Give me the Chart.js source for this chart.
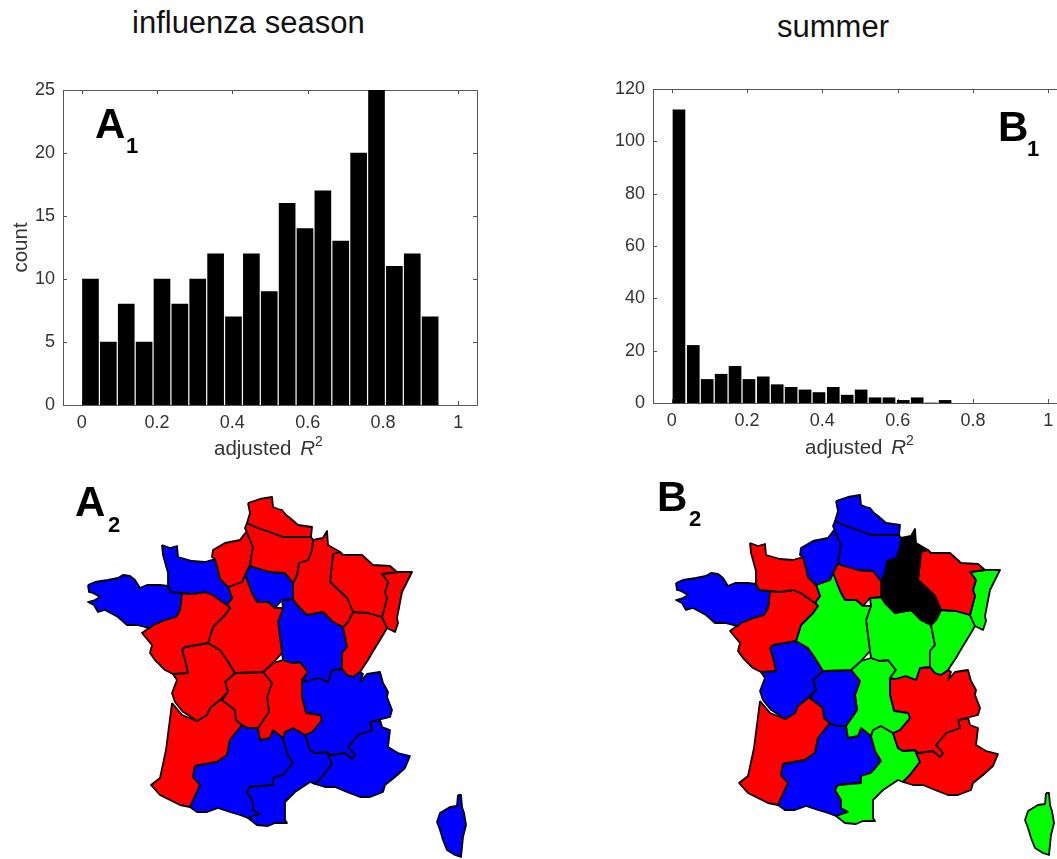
<!DOCTYPE html>
<html>
<head>
<meta charset="utf-8">
<title>adjusted R2 by season</title>
<script src="https://cdn.jsdelivr.net/npm/chart.js@4"></script>
<style>
  html, body { margin: 0; padding: 0; background: #fff; overflow: hidden; width: 1057px; height: 859px; }
  body { position: relative; font-family: "Liberation Sans", sans-serif; }
  .box { position: absolute; width: 500px; }
  .txt { position: absolute; white-space: nowrap; line-height: 1; }
  .head { font-size: 31px; color: #111; }
  .xlab { font-size: 20.5px; color: #333; }
  .xlab i { font-style: italic; margin-left: 3px; }
  .xlab sup { font-size: 14px; line-height: 0; position: relative; top: -1px; vertical-align: super; margin-left: 0; }
  .big { font-size: 42px; font-weight: bold; color: #000; }
  .sub { font-size: 22px; font-weight: bold; color: #000; }
</style>
</head>
<body>
<div class="box" style="left:0;top:70px;height:400px"><canvas id="histA" width="500" height="400"></canvas></div>
<div class="box" style="left:600px;top:70px;height:400px"><canvas id="histB" width="500" height="400"></canvas></div>
<div class="box" style="left:0;top:470px;height:389px"><canvas id="mapA" width="500" height="389"></canvas></div>
<div class="box" style="left:588px;top:468px;height:391px"><canvas id="mapB" width="500" height="391"></canvas></div>

<div class="txt head" style="left:132px;top:7px">influenza season</div>
<div class="txt head" style="left:777px;top:11px">summer</div>
<div class="txt xlab" style="left:214px;top:438px">adjusted <i>R</i><sup>2</sup></div>
<div class="txt xlab" style="left:805px;top:437px">adjusted <i>R</i><sup>2</sup></div>

<div class="txt big" style="left:95px;top:103px">A</div><div class="txt sub" style="left:126px;top:135px">1</div>
<div class="txt big" style="left:998px;top:106px">B</div><div class="txt sub" style="left:1027px;top:138px">1</div>
<div class="txt big" style="left:75px;top:481px">A</div><div class="txt sub" style="left:108px;top:514px">2</div>
<div class="txt big" style="left:657px;top:476px">B</div><div class="txt sub" style="left:689px;top:508px">2</div>

<script>
// histogram values
const binsA = [0.023, 0.0705, 0.118, 0.1655, 0.213, 0.2605, 0.308, 0.3555, 0.403, 0.4505, 0.498, 0.5455, 0.593, 0.6405, 0.688, 0.7355, 0.783, 0.8305, 0.878, 0.9255];
const countsA = [10, 5, 8, 5, 10, 8, 10, 12, 7, 12, 9, 16, 14, 17, 13, 20, 25, 11, 12, 7];
const binsB = [0.019, 0.057, 0.094, 0.131, 0.168, 0.205, 0.243, 0.280, 0.317, 0.354, 0.391, 0.429, 0.466, 0.503, 0.540, 0.577, 0.615, 0.652, 0.689, 0.726];
const countsB = [112, 22, 9, 11, 14, 9, 10, 7, 6, 5, 4, 6, 3, 5, 2, 2, 1, 2, 0, 1];
const xTicks = [0, 0.2, 0.4, 0.6, 0.8, 1];
const yTicksA = [0, 5, 10, 15, 20, 25];
const yTicksB = [0, 20, 40, 60, 80, 100, 120];

// region outlines
const nord = [[248,503],[260,499],[272,497],[273,507],[278,509],[282,510],[286,515],[290,518],[298,525],[312,527],[311,537],[297,537],[283,537],[270,532],[258,528],[247,523],[250,513]];
const picardie = [[247,523],[258,528],[270,532],[283,537],[297,537],[311,537],[313,540],[312,550],[308,560],[299,563],[297,575],[293,583],[285,573],[270,572],[253,567],[250,565],[253,547],[247,533],[245,528]];
const hauteNormandie = [[246,532],[240,540],[225,543],[213,550],[212,557],[215,559],[218,570],[220,579],[228,587],[242,582],[245,575],[250,565],[253,547],[247,533]];
const basseNormandie = [[162,545],[170,548],[177,546],[178,557],[192,561],[205,562],[215,559],[218,570],[220,579],[228,587],[232,598],[227,605],[217,598],[213,595],[205,592],[192,594],[182,593],[171,592],[168,586],[168,573],[163,555]];
const bretagne = [[88,585],[95,582],[108,580],[118,578],[123,575],[130,576],[135,580],[140,588],[147,585],[153,585],[160,585],[168,586],[171,592],[182,593],[180,610],[176,617],[165,620],[153,625],[150,628],[145,627],[137,625],[127,625],[118,617],[105,610],[98,612],[94,605],[88,602],[95,600],[100,597],[93,593],[89,592]];
const paysDeLoire = [[182,593],[192,594],[205,592],[213,595],[217,598],[227,605],[230,608],[225,615],[213,627],[208,643],[185,647],[182,650],[185,660],[188,673],[173,674],[165,670],[155,660],[150,653],[152,645],[142,633],[153,625],[165,620],[176,617],[180,610]];
const centre = [[228,587],[242,582],[245,575],[252,593],[257,602],[268,602],[275,608],[283,608],[278,622],[282,653],[273,663],[263,672],[235,673],[227,660],[220,650],[208,643],[213,627],[225,615],[230,608],[227,605],[232,598]];
const ileDeFrance = [[250,565],[253,567],[270,572],[285,573],[293,583],[293,599],[282,600],[275,608],[268,602],[257,602],[252,593],[245,575]];
const champagne = [[313,540],[323,538],[327,531],[328,545],[340,552],[333,554],[330,582],[347,598],[353,612],[348,622],[343,627],[333,622],[323,612],[307,615],[297,605],[293,599],[293,583],[297,575],[299,563],[308,560],[312,550]];
const lorraine = [[333,554],[340,552],[343,555],[362,555],[373,565],[390,566],[397,572],[382,574],[388,582],[385,592],[387,598],[382,617],[368,613],[355,612],[353,612],[347,598],[330,582]];
const alsace = [[382,574],[397,572],[412,572],[402,592],[397,618],[398,623],[395,632],[387,628],[382,617],[387,598],[385,592],[388,582]];
const franche = [[353,612],[368,613],[382,617],[387,628],[383,635],[372,653],[368,660],[360,672],[353,677],[347,675],[342,669],[342,653],[347,647],[343,627],[348,622]];
const bourgogne = [[282,600],[293,599],[297,605],[307,615],[323,612],[333,622],[343,627],[347,647],[342,653],[342,669],[332,670],[328,682],[318,678],[307,681],[302,680],[308,672],[300,662],[292,663],[283,660],[282,653],[278,622],[283,608]];
const poitou = [[182,650],[185,647],[208,643],[220,650],[227,660],[235,673],[225,682],[228,692],[220,700],[210,708],[207,715],[197,721],[185,713],[183,712],[175,702],[172,693],[177,680],[173,674],[188,673],[185,660]];
const limousin = [[235,673],[263,672],[272,683],[267,697],[269,712],[260,725],[258,728],[248,728],[242,725],[236,720],[235,710],[222,700],[228,692],[225,682]];
const auvergne = [[263,672],[273,663],[283,660],[292,663],[300,662],[308,672],[302,680],[302,697],[306,713],[320,715],[322,720],[312,732],[305,735],[293,728],[285,732],[283,738],[273,730],[270,738],[260,740],[258,728],[260,725],[269,712],[267,697],[272,683]];
const rhoneAlpes = [[302,680],[307,681],[318,678],[328,682],[332,670],[342,669],[347,675],[353,677],[360,672],[363,674],[360,682],[367,674],[380,672],[383,683],[388,692],[387,697],[392,710],[390,717],[370,722],[372,730],[358,735],[348,747],[355,755],[352,759],[345,753],[330,755],[327,752],[315,753],[310,750],[305,735],[312,732],[322,720],[320,715],[306,713],[302,697]];
const paca = [[370,722],[380,720],[382,727],[390,730],[388,747],[398,753],[410,756],[405,768],[395,777],[385,785],[383,792],[370,797],[360,797],[347,792],[335,787],[325,787],[315,784],[322,777],[332,764],[327,752],[330,755],[345,753],[352,759],[355,755],[348,747],[358,735],[372,730]];
const languedoc = [[283,738],[285,732],[293,728],[305,735],[310,750],[315,753],[327,752],[332,764],[322,777],[315,784],[310,782],[295,792],[285,802],[285,820],[287,823],[275,823],[268,826],[257,825],[248,818],[260,814],[253,810],[253,802],[247,792],[250,787],[273,785],[273,778],[283,775],[293,763],[287,753]];
const midiPyrenees = [[242,725],[248,728],[258,728],[260,740],[270,738],[273,730],[283,738],[287,753],[293,763],[283,775],[273,778],[273,785],[250,787],[247,792],[253,802],[253,810],[260,814],[248,818],[240,815],[230,812],[218,808],[207,812],[197,812],[190,807],[200,785],[193,777],[195,766],[217,762],[227,755],[230,740]];
const aquitaine = [[172,703],[182,715],[197,721],[207,715],[210,708],[220,700],[222,700],[235,710],[236,720],[242,725],[230,740],[227,755],[217,762],[195,766],[193,777],[200,785],[190,807],[180,805],[160,795],[151,785],[160,778],[166,750]];
const arcachon = [[168,736],[171,733],[175,737],[169,738]];
const corse = [[458,795],[461,795],[462,807],[464,813],[466,825],[463,837],[461,857],[455,855],[447,850],[443,840],[440,830],[437,822],[440,813],[450,807],[457,806]];

const regions = [nord, picardie, hauteNormandie, basseNormandie, bretagne, paysDeLoire, centre, ileDeFrance, champagne, lorraine, alsace, franche, bourgogne, poitou, limousin, auvergne, rhoneAlpes, paca, languedoc, midiPyrenees, aquitaine, arcachon, corse];
const groupsA = ['r','r','r','b','b','r','r','b','r','r','r','r','b','r','r','r','b','b','b','b','r','w','b'];
const groupsB = ['b','b','b','r','b','r','g','r','k','r','g','g','g','b','b','g','r','r','g','b','r','w','g'];
const groupColors = { r: '#ff0000', b: '#0000ff', g: '#00ff00', k: '#000000', w: '#ffffff' };

// matlab style box with ticks pointing in
const boxTicks = {
  id: 'boxTicks',
  beforeDatasetsDraw(chart) {
    const a = chart.chartArea, c = chart.ctx, x = chart.scales.x, y = chart.scales.y;
    c.save();
    c.strokeStyle = '#555';
    c.lineWidth = 1;
    c.beginPath();
    c.rect(a.left + 0.5, a.top + 0.5, a.right - a.left, a.bottom - a.top);
    x.ticks.forEach(t => {
      const p = Math.round(x.getPixelForValue(t.value)) + 0.5;
      c.moveTo(p, a.bottom); c.lineTo(p, a.bottom - 4);
      c.moveTo(p, a.top); c.lineTo(p, a.top + 4);
    });
    y.ticks.forEach(t => {
      const p = Math.round(y.getPixelForValue(t.value)) + 0.5;
      c.moveTo(a.left, p); c.lineTo(a.left + 4, p);
      c.moveTo(a.right, p); c.lineTo(a.right - 4, p);
    });
    c.stroke();
    c.restore();
  }
};

function hist(id, bins, counts, yTicks, yMax, thick, o) {
  new Chart(document.getElementById(id), {
    type: 'bar',
    data: {
      datasets: [{
        data: bins.map((b, i) => ({ x: b, y: counts[i] })),
        backgroundColor: '#000',
        barThickness: thick
      }]
    },
    options: {
      responsive: false,
      animation: false,
      layout: { padding: { top: o.top, right: o.right, left: 0, bottom: 0 } },
      plugins: { legend: { display: false }, tooltip: { enabled: false } },
      scales: {
        x: {
          type: 'linear', min: -0.05, max: 1.05, offset: false,
          grid: { display: false, drawTicks: false }, border: { display: false },
          afterBuildTicks: s => { s.ticks = xTicks.map(v => ({ value: v })); },
          afterFit: s => { s.height = o.xHeight; },
          ticks: { color: '#333', font: { family: 'Liberation Sans', size: 18 }, padding: 7, maxRotation: 0, autoSkip: false, callback: v => String(v) }
        },
        y: {
          min: 0, max: yMax,
          grid: { display: false, drawTicks: false }, border: { display: false },
          afterBuildTicks: s => { s.ticks = yTicks.map(v => ({ value: v })); },
          afterFit: s => { s.width = o.yWidth; },
          title: { display: !!o.yTitle, text: o.yTitle, color: '#333', font: { family: 'Liberation Sans', size: 20.5 }, padding: { top: 9, bottom: 0 } },
          ticks: { color: '#333', font: { family: 'Liberation Sans', size: 18 }, padding: 8, autoSkip: false, callback: v => String(v) }
        }
      }
    },
    plugins: [boxTicks]
  });
}

function franceMap(id, groups, yMax) {
  new Chart(document.getElementById(id), {
    type: 'scatter',
    data: {
      datasets: regions.map((r, i) => ({
        data: r.concat([r[0]]).map(p => ({ x: p[0], y: p[1] })),
        showLine: true,
        fill: 'shape',
        backgroundColor: groupColors[groups[i]],
        borderColor: '#000',
        borderWidth: 1.8,
        borderJoinStyle: 'round',
        pointRadius: 0,
        tension: 0
      }))
    },
    options: {
      responsive: false,
      animation: false,
      layout: { padding: 0 },
      plugins: { legend: { display: false }, tooltip: { enabled: false } },
      scales: {
        x: { type: 'linear', min: 0, max: 500, display: false },
        y: { type: 'linear', min: 470, max: yMax, reverse: true, display: false }
      }
    }
  });
}

hist('histA', binsA, countsA, yTicksA, 25, 16, { top: 20, right: 23, xHeight: 65, yWidth: 63, yTitle: 'count' });
hist('histB', binsB, countsB, yTicksB, 120, 12, { top: 19, right: 33, xHeight: 67, yWidth: 53, yTitle: '' });
franceMap('mapA', groupsA, 859);
franceMap('mapB', groupsB, 861);
</script>
</body>
</html>
